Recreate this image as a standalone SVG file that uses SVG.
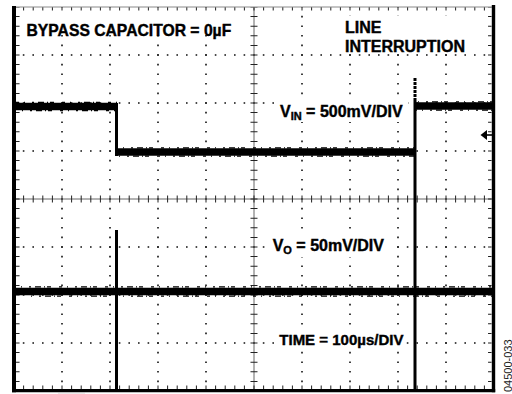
<svg xmlns="http://www.w3.org/2000/svg" width="512" height="394" viewBox="0 0 512 394">
<style>
  .grid { stroke:#111; stroke-width:1.6; stroke-dasharray:1.6 8; stroke-dashoffset:0.8; fill:none; }
  .tick { stroke:#222; stroke-width:3.5; stroke-dasharray:1 8.6; stroke-dashoffset:0.5; fill:none; }
  .ctick { stroke:#222; stroke-width:7; stroke-dasharray:1 8.6; stroke-dashoffset:0.5; fill:none; }
  .axis { stroke:#666; stroke-width:1; }
  .frame { stroke:#000; fill:none; }
  .trace { stroke:#000; fill:none; stroke-width:7.5; }
  .noise { stroke:#000; fill:none; stroke-width:1.2; stroke-dasharray:3 5 1 7 2 4 6 3 1 2 4 8; }
  .edge { stroke:#000; fill:none; stroke-width:3; }
  .lbl { font-family:"Liberation Sans", Arial, Helvetica, sans-serif; font-weight:bold; font-size:15.7px; fill:#000; stroke:#000; stroke-width:0.4; }
  .sub { font-size:11px; }
  .bg { fill:#fff; }
</style>

<g id="graticule">
  <g id="grid-vertical">
    <line class="grid" x1="62" y1="7" x2="62" y2="391"/>
    <line class="grid" x1="110" y1="7" x2="110" y2="391"/>
    <line class="grid" x1="158" y1="7" x2="158" y2="391"/>
    <line class="grid" x1="206" y1="7" x2="206" y2="391"/>
    <line class="grid" x1="302" y1="7" x2="302" y2="391"/>
    <line class="grid" x1="350" y1="7" x2="350" y2="391"/>
    <line class="grid" x1="398" y1="7" x2="398" y2="391"/>
    <line class="grid" x1="446" y1="7" x2="446" y2="391"/>
  </g>
  <g id="grid-horizontal">
    <line class="grid" x1="14" y1="55" x2="494" y2="55"/>
    <line class="grid" x1="14" y1="103" x2="494" y2="103"/>
    <line class="grid" x1="14" y1="151" x2="494" y2="151"/>
    <line class="grid" x1="14" y1="247" x2="494" y2="247"/>
    <line class="grid" x1="14" y1="295" x2="494" y2="295"/>
    <line class="grid" x1="14" y1="343" x2="494" y2="343"/>
  </g>
  <g id="center-axes">
    <line class="axis" x1="14" y1="199" x2="494" y2="199"/>
    <line class="axis" x1="254" y1="7" x2="254" y2="391"/>
    <line class="ctick" x1="14" y1="199" x2="494" y2="199"/>
    <line class="ctick" x1="254" y1="7" x2="254" y2="391"/>
  </g>
  <g id="edge-ticks">
    <line class="tick" x1="14" y1="8.8" x2="494" y2="8.8"/>
    <line class="tick" x1="14" y1="387.2" x2="494" y2="387.2"/>
    <line class="tick" x1="17.8" y1="7" x2="17.8" y2="391"/>
    <line class="tick" x1="489.8" y1="7" x2="489.8" y2="391"/>
  </g>
  <g id="frame">
    <line x1="14" y1="7" x2="494" y2="7" stroke="#888" stroke-width="1"/>
    <line class="frame" x1="14" y1="6" x2="14" y2="392.3" stroke-width="4"/>
    <line class="frame" x1="493.5" y1="5" x2="493.5" y2="392.3" stroke-width="3.4"/>
    <line class="frame" x1="12" y1="390.7" x2="495.2" y2="390.7" stroke-width="3.2"/>
    <line x1="58" y1="392.8" x2="85" y2="392.8" stroke="#bbb" stroke-width="1"/>
  </g>
</g>

<g id="connectors">
  <g id="vin-trace">
    <line class="trace" x1="16" y1="106.5" x2="117" y2="106.5"/>
    <line class="noise" x1="16" y1="102.3" x2="117" y2="102.3"/>
    <line class="noise" x1="18" y1="110.7" x2="117" y2="110.7" stroke-dashoffset="4"/>
    <line class="edge" x1="116.5" y1="103" x2="116.5" y2="156"/>
    <line class="trace" x1="116" y1="152" x2="415" y2="152"/>
    <line class="noise" x1="117" y1="147.8" x2="415" y2="147.8" stroke-dashoffset="2"/>
    <line class="noise" x1="117" y1="156.2" x2="415" y2="156.2" stroke-dashoffset="6"/>
    <line class="edge" x1="415" y1="78" x2="415" y2="100" stroke-width="2" stroke-dasharray="3 1"/>
    <line class="edge" x1="415" y1="100" x2="415" y2="391"/>
    <line class="trace" x1="415" y1="106" x2="492" y2="106"/>
    <line class="noise" x1="415" y1="101.8" x2="492" y2="101.8" stroke-dashoffset="5"/>
    <line class="noise" x1="415" y1="110.2" x2="492" y2="110.2" stroke-dashoffset="1"/>
  </g>
  <g id="vo-trace">
    <line class="trace" x1="16" y1="291.5" x2="492" y2="291.5" stroke-width="8"/>
    <line class="noise" x1="16" y1="286.8" x2="492" y2="286.8" stroke-dashoffset="3"/>
    <line class="noise" x1="30" y1="296.2" x2="492" y2="296.2" stroke-dashoffset="7"/>
    <line class="edge" x1="116.5" y1="230" x2="116.5" y2="390"/>
  </g>
  <g id="marker">
    <polygon points="480.5,135 487,130 487,140" fill="#000"/>
    <line x1="486" y1="135" x2="492" y2="135" stroke="#000" stroke-width="1.6"/>
  </g>
</g>

<g id="label-bypass">
  <rect class="bg" x="22" y="15" width="222" height="20"/>
  <text class="lbl" x="26.5" y="35.7">BYPASS CAPACITOR = 0µF</text>
</g>
<g id="label-line">
  <rect class="bg" x="341" y="16" width="130" height="37"/>
  <text class="lbl" x="345" y="33.3" style="font-size:16px">LINE</text>
  <text class="lbl" x="345" y="52.3" style="font-size:16px">INTERRUPTION</text>
</g>
<g id="label-vin">
  <rect class="bg" x="276" y="99" width="132" height="23"/>
  <text class="lbl" x="280" y="116.7" style="font-size:16px">V<tspan class="sub" dy="2.8">IN</tspan><tspan dy="-2.8"> = 500mV/DIV</tspan></text>
</g>
<g id="label-vo">
  <rect class="bg" x="270" y="236" width="120" height="21"/>
  <text class="lbl" x="272.7" y="250.7" style="font-size:16px">V<tspan class="sub" dy="3.3">O</tspan><tspan dy="-3.3"> = 50mV/DIV</tspan></text>
</g>
<g id="label-time">
  <rect class="bg" x="276" y="330" width="130" height="18"/>
  <text class="lbl" x="279.3" y="344.7" style="font-size:15px">TIME = 100µs/DIV</text>
</g>
<g id="figure-id">
  <text transform="translate(511.5,392) rotate(-90)" font-family="'Liberation Sans', Arial, sans-serif" font-size="11" fill="#222">04500-033</text>
</g>
</svg>
